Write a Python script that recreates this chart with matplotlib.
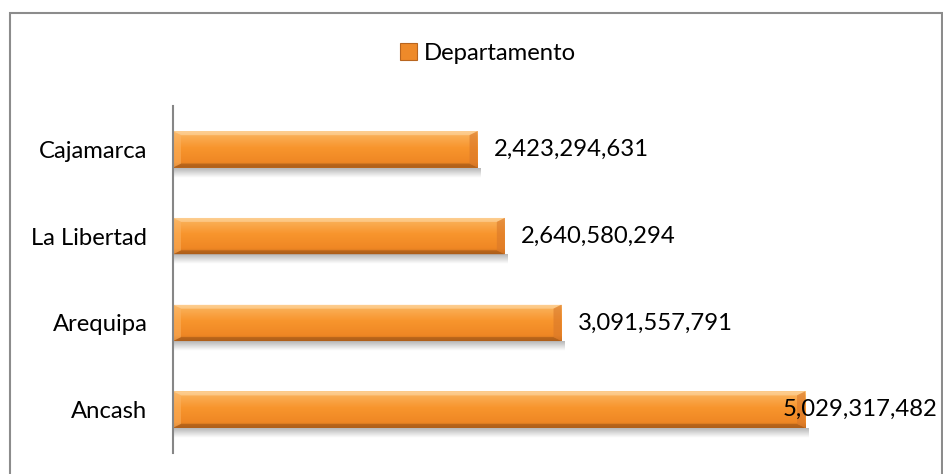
import numpy as np
import matplotlib.pyplot as plt
from matplotlib.patches import Rectangle, Polygon, Patch
from matplotlib.colors import to_rgb

# values per departamento, bottom to top
departamentos = ["Ancash", "Arequipa", "La Libertad", "Cajamarca"]
montos = [5029317482, 3091557791, 2640580294, 2423294631]
serie = "Departamento"

W, H, DPI = 943, 474, 100
plt.rcParams["font.family"] = ["Lato", "DejaVu Sans"]
FS = 17.2

fig = plt.figure(figsize=(W / DPI, H / DPI), dpi=DPI)
fig.patch.set_facecolor("white")

# plot area in pixel terms
left_px, right_px, top_px, bottom_px = 173, 927, 106, 453
ax = fig.add_axes([left_px / W, 1 - bottom_px / H,
                   (right_px - left_px) / W, (bottom_px - top_px) / H])
xmax = 6.0e9
ax.set_xlim(0, xmax)
ax.set_ylim(-0.5, len(departamentos) - 0.5)

px_x = xmax / (right_px - left_px)          # data units per pixel (x)
px_y = len(departamentos) / (bottom_px - top_px)  # data units per pixel (y)

bar_h = 0.42
ypos = np.arange(len(departamentos))
bars = ax.barh(ypos, montos, height=bar_h, color="#F39130", zorder=2)

# vertical gradient for the bar body (top light -> bottom dark)
stops = [(0.0, "#FCC57E"), (0.12, "#FAAE55"), (0.45, "#F8952D"),
         (0.85, "#EF8724"), (1.0, "#C46B1E")]
n = 64
t = np.linspace(0, 1, n)
grad = np.zeros((n, 1, 3))
for c in range(3):
    grad[:, 0, c] = np.interp(t, [s[0] for s in stops],
                              [to_rgb(s[1])[c] for s in stops])

# fading shadow under the bars
shadow = np.zeros((12, 1, 4))
shadow[:, 0, :3] = 0.45
shadow[:, 0, 3] = np.linspace(0.5, 0.0, 12)

bev_x = 8 * px_x
bev_y = 4 * px_y
for rect in bars:
    x0, y0 = rect.get_x(), rect.get_y()
    w, h = rect.get_width(), rect.get_height()
    x1, y1 = x0 + w, y0 + h
    ax.imshow(shadow, extent=[x0, x1 + 3 * px_x, y0 - 10 * px_y, y0],
              aspect="auto", zorder=1, interpolation="bilinear")
    im = ax.imshow(grad, extent=[x0, x1, y0, y1], aspect="auto",
                   zorder=3, interpolation="bilinear")
    im.set_clip_path(rect)
    # bevel facets
    ax.add_patch(Polygon([(x0, y1), (x1, y1), (x1 - bev_x, y1 - bev_y),
                          (x0 + bev_x, y1 - bev_y)],
                         closed=True, fc="#FFD9A6", alpha=0.55, lw=0, zorder=4))
    ax.add_patch(Polygon([(x0, y0), (x1, y0), (x1 - bev_x, y0 + bev_y),
                          (x0 + bev_x, y0 + bev_y)],
                         closed=True, fc="#9C5416", alpha=0.55, lw=0, zorder=4))
    ax.add_patch(Polygon([(x1, y0), (x1, y1), (x1 - bev_x, y1 - bev_y),
                          (x1 - bev_x, y0 + bev_y)],
                         closed=True, fc="#D9782A", alpha=0.6, lw=0, zorder=4))
    ax.add_patch(Polygon([(x0, y0), (x0, y1), (x0 + bev_x, y1 - bev_y),
                          (x0 + bev_x, y0 + bev_y)],
                         closed=True, fc="#FBB566", alpha=0.5, lw=0, zorder=4))

# value labels; keep them from running past the chart edge
label_max_x = (783 - left_px) * px_x
for yy, v in zip(ypos, montos):
    lx = min(v + 16 * px_x, label_max_x)
    ax.text(lx, yy, f"{v:,}", ha="left", va="center", fontsize=FS,
            color="black", zorder=5, clip_on=False)

ax.set_yticks(ypos)
ax.set_yticklabels(departamentos, fontsize=FS)
ax.tick_params(axis="y", length=0, pad=18.5)
ax.set_xticks([])
for side in ("top", "right", "bottom"):
    ax.spines[side].set_visible(False)
ax.spines["left"].set_color("#868686")
ax.spines["left"].set_linewidth(1.5)
ax.spines["left"].set_zorder(6)

# legend above the plot
handle = Patch(facecolor="#EE8A2A", edgecolor="#B8651F", linewidth=0.8)
fig.legend([handle], [serie], loc="center", bbox_to_anchor=(488 / W, 1 - 53 / H),
           frameon=False, fontsize=FS, handlelength=0.7, handleheight=0.7,
           handletextpad=0.3, borderpad=0)

# chart frame
fig.add_artist(Rectangle((9.5 / W, -0.05), (941.5 - 9.5) / W, 1.05 - 13.5 / H,
                         transform=fig.transFigure, fill=False,
                         edgecolor="#8C8C8C", linewidth=1.5))

fig.savefig("out.png", dpi=DPI)
